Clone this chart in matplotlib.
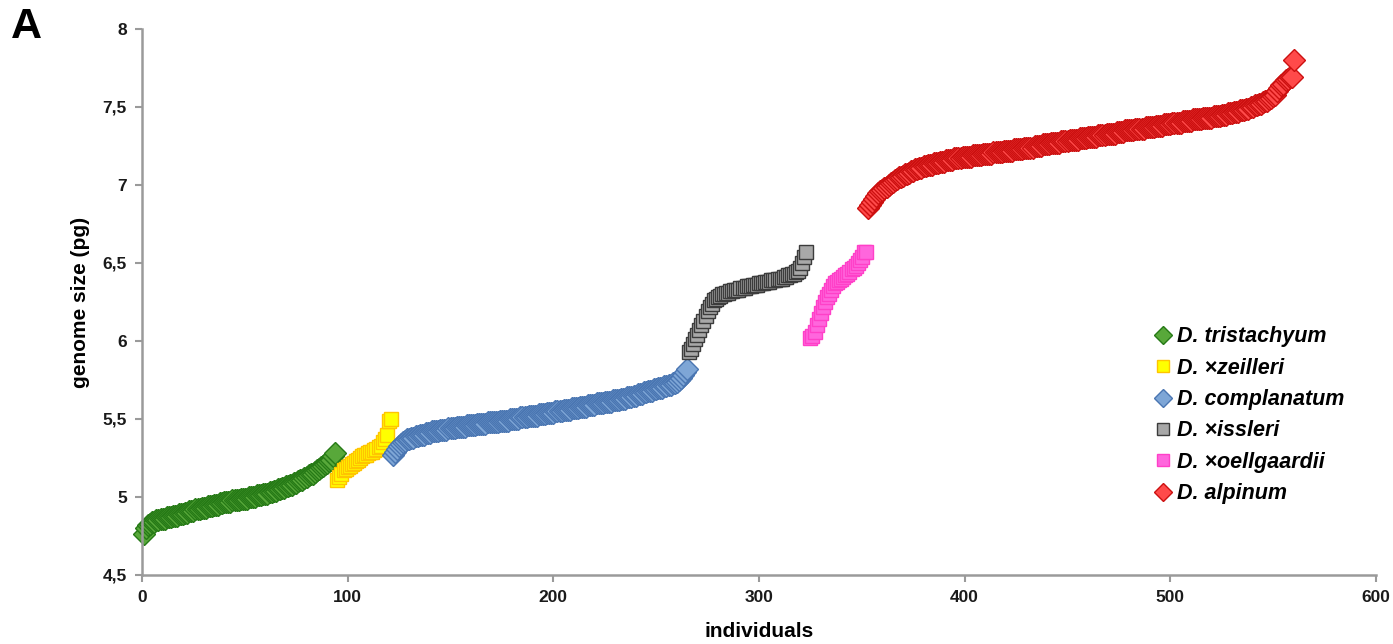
import matplotlib
matplotlib.use("Agg")
import matplotlib.pyplot as plt
import numpy as np

plt.rcParams["font.family"] = ["Liberation Sans", "DejaVu Sans"]

#  Genome sizes (pg), individuals sorted within each taxon
tristachyum = [
  4.76, 4.80, 4.82, 4.83, 4.84, 4.84, 4.85, 4.85, 4.86, 4.86,
  4.86, 4.87, 4.87, 4.87, 4.88, 4.88, 4.88, 4.89, 4.89, 4.89,
  4.90, 4.90, 4.91, 4.91, 4.91, 4.92, 4.92, 4.92, 4.93, 4.93,
  4.93, 4.94, 4.94, 4.94, 4.95, 4.95, 4.95, 4.96, 4.96, 4.97,
  4.97, 4.97, 4.97, 4.98, 4.98, 4.98, 4.98, 4.99, 4.99, 4.99,
  4.99, 5.00, 5.00, 5.00, 5.00, 5.01, 5.01, 5.01, 5.02, 5.02,
  5.02, 5.03, 5.03, 5.04, 5.04, 5.05, 5.05, 5.06, 5.06, 5.07,
  5.07, 5.08, 5.08, 5.09, 5.09, 5.10, 5.11, 5.11, 5.12, 5.13,
  5.14, 5.15, 5.15, 5.16, 5.17, 5.18, 5.19, 5.20, 5.21, 5.22,
  5.23, 5.24, 5.26, 5.28 ]

zeilleri = [
  5.11, 5.13, 5.15, 5.17, 5.18, 5.19, 5.20, 5.21, 5.22, 5.23,
  5.24, 5.25, 5.26, 5.27, 5.27, 5.28, 5.29, 5.29, 5.30, 5.31,
  5.32, 5.33, 5.35, 5.37, 5.40, 5.49, 5.50 ]

complanatum = [
  5.27, 5.29, 5.31, 5.33, 5.34, 5.35, 5.36, 5.37, 5.37, 5.38,
  5.38, 5.39, 5.39, 5.40, 5.40, 5.40, 5.41, 5.41, 5.41, 5.42,
  5.42, 5.42, 5.42, 5.43, 5.43, 5.43, 5.43, 5.44, 5.44, 5.44,
  5.44, 5.45, 5.45, 5.45, 5.45, 5.45, 5.46, 5.46, 5.46, 5.46,
  5.46, 5.47, 5.47, 5.47, 5.47, 5.47, 5.48, 5.48, 5.48, 5.48,
  5.48, 5.48, 5.49, 5.49, 5.49, 5.49, 5.49, 5.50, 5.50, 5.50,
  5.50, 5.50, 5.51, 5.51, 5.51, 5.51, 5.52, 5.52, 5.52, 5.52,
  5.52, 5.53, 5.53, 5.53, 5.53, 5.54, 5.54, 5.54, 5.54, 5.55,
  5.55, 5.55, 5.55, 5.56, 5.56, 5.56, 5.56, 5.57, 5.57, 5.57,
  5.57, 5.58, 5.58, 5.58, 5.58, 5.59, 5.59, 5.59, 5.59, 5.60,
  5.60, 5.60, 5.60, 5.61, 5.61, 5.61, 5.61, 5.62, 5.62, 5.62,
  5.62, 5.63, 5.63, 5.63, 5.64, 5.64, 5.64, 5.65, 5.65, 5.66,
  5.66, 5.66, 5.67, 5.67, 5.68, 5.68, 5.68, 5.69, 5.69, 5.70,
  5.70, 5.70, 5.71, 5.71, 5.72, 5.72, 5.73, 5.73, 5.74, 5.75,
  5.76, 5.78, 5.80, 5.82 ]

issleri = [
  5.93, 5.95, 5.98, 6.01, 6.04, 6.07, 6.10, 6.13, 6.16, 6.19,
  6.22, 6.24, 6.26, 6.27, 6.28, 6.29, 6.30, 6.30, 6.31, 6.31,
  6.32, 6.32, 6.33, 6.33, 6.33, 6.34, 6.34, 6.34, 6.35, 6.35,
  6.35, 6.36, 6.36, 6.36, 6.37, 6.37, 6.37, 6.38, 6.38, 6.38,
  6.39, 6.39, 6.39, 6.40, 6.40, 6.40, 6.41, 6.41, 6.42, 6.42,
  6.43, 6.43, 6.44, 6.45, 6.47, 6.50, 6.54, 6.57 ]

oellgaardii = [
  6.02, 6.03, 6.06, 6.10, 6.14, 6.18, 6.22, 6.25, 6.28, 6.30,
  6.33, 6.35, 6.37, 6.38, 6.39, 6.40, 6.41, 6.42, 6.43, 6.44,
  6.46, 6.47, 6.48, 6.50, 6.52, 6.54, 6.57, 6.57 ]

alpinum = [
  6.85, 6.87, 6.89, 6.91, 6.93, 6.95, 6.96, 6.97, 6.98, 6.99,
  7.00, 7.01, 7.02, 7.03, 7.04, 7.05, 7.05, 7.06, 7.07, 7.07,
  7.08, 7.09, 7.09, 7.10, 7.10, 7.11, 7.11, 7.12, 7.12, 7.13,
  7.13, 7.13, 7.14, 7.14, 7.14, 7.15, 7.15, 7.15, 7.16, 7.16,
  7.16, 7.16, 7.17, 7.17, 7.17, 7.17, 7.18, 7.18, 7.18, 7.18,
  7.18, 7.19, 7.19, 7.19, 7.19, 7.19, 7.20, 7.20, 7.20, 7.20,
  7.20, 7.21, 7.21, 7.21, 7.21, 7.21, 7.22, 7.22, 7.22, 7.22,
  7.22, 7.23, 7.23, 7.23, 7.23, 7.23, 7.24, 7.24, 7.24, 7.24,
  7.24, 7.25, 7.25, 7.25, 7.25, 7.26, 7.26, 7.26, 7.26, 7.27,
  7.27, 7.27, 7.27, 7.27, 7.28, 7.28, 7.28, 7.28, 7.29, 7.29,
  7.29, 7.29, 7.29, 7.30, 7.30, 7.30, 7.30, 7.31, 7.31, 7.31,
  7.31, 7.31, 7.32, 7.32, 7.32, 7.32, 7.33, 7.33, 7.33, 7.33,
  7.33, 7.34, 7.34, 7.34, 7.34, 7.35, 7.35, 7.35, 7.35, 7.35,
  7.36, 7.36, 7.36, 7.36, 7.36, 7.37, 7.37, 7.37, 7.37, 7.37,
  7.38, 7.38, 7.38, 7.38, 7.39, 7.39, 7.39, 7.39, 7.40, 7.40,
  7.40, 7.40, 7.40, 7.41, 7.41, 7.41, 7.41, 7.41, 7.42, 7.42,
  7.42, 7.42, 7.42, 7.43, 7.43, 7.43, 7.43, 7.43, 7.44, 7.44,
  7.44, 7.44, 7.45, 7.45, 7.45, 7.46, 7.46, 7.46, 7.47, 7.47,
  7.47, 7.48, 7.48, 7.48, 7.49, 7.49, 7.50, 7.50, 7.51, 7.51,
  7.52, 7.52, 7.53, 7.54, 7.54, 7.55, 7.56, 7.57, 7.58, 7.60,
  7.62, 7.64, 7.65, 7.67, 7.68, 7.69, 7.69, 7.80 ]

#  First individual number of each taxon on the x axis
start_x = [ 1, 95, 122, 266, 325, 353 ]

labels = [ "D. tristachyum", "D. \u00d7zeilleri", "D. complanatum",
           "D. \u00d7issleri", "D. \u00d7oellgaardii", "D. alpinum" ]

y_ticks = [ 4.5, 5, 5.5, 6, 6.5, 7, 7.5, 8 ]
y_tick_labels = [ "4,5", "5", "5,5", "6", "6,5", "7", "7,5", "8" ]
x_ticks = [ 0, 100, 200, 300, 400, 500, 600 ]

series = [ tristachyum, zeilleri, complanatum, issleri, oellgaardii, alpinum ]

#  marker, size, face, edge
styles = [
  ( "D", 11, "#58a83a", "#267a16" ),
  ( "s", 10, "#ffff00", "#ffc400" ),
  ( "D", 11, "#7ea6d6", "#4a76b2" ),
  ( "s", 10, "#a8a8a8", "#3c3c3c" ),
  ( "s", 10, "#ff66dd", "#ff40c8" ),
  ( "D", 11, "#ff4a4a", "#cc1010" ),
]

fig = plt.figure( figsize = ( 13.93, 6.44 ), dpi = 100 )
ax = fig.add_axes( [ 142 / 1393, 1 - 575 / 644, ( 1376 - 142 ) / 1393, ( 575 - 29 ) / 644 ] )

axis_grey = "#9a9a9a"

handles = []
for values, x0, label, ( marker, ms, face, edge ) in zip( series, start_x, labels, styles ):
  xs = np.arange( x0, x0 + len( values ) )
  ax.plot( xs, values, linestyle = "none", marker = marker, markersize = ms,
           markerfacecolor = face, markeredgecolor = edge, markeredgewidth = 1.0,
           clip_on = False )
  #  Legend keys are drawn at a common, smaller size
  h, = ax.plot( [], [], linestyle = "none", marker = marker,
                markersize = 9 if marker == "D" else 8,
                markerfacecolor = face, markeredgecolor = edge, markeredgewidth = 1.0, label = label )
  handles.append( h )

ax.set_xlim( 0, 600 )
ax.set_ylim( 4.5, 8 )
ax.set_xticks( x_ticks )
ax.set_xticklabels( [ str( t ) for t in x_ticks ], fontsize = 12.5, fontweight = "bold" )
ax.set_yticks( y_ticks )
ax.set_yticklabels( y_tick_labels, fontsize = 12.5, fontweight = "bold" )

for side in [ "top", "right" ]:
  ax.spines[ side ].set_visible( False )
for side in [ "left", "bottom" ]:
  ax.spines[ side ].set_color( axis_grey )
  ax.spines[ side ].set_linewidth( 1.8 )
ax.tick_params( colors = axis_grey, labelcolor = "#1a1a1a", length = 5, width = 1.5, pad = 6 )

ax.set_xlabel( "individuals", fontsize = 15, fontweight = "bold", labelpad = 12 )
ax.set_ylabel( "genome size (pg)", fontsize = 15, fontweight = "bold", labelpad = 9 )

fig.text( 11 / 1393, 1 - 38 / 644, "A", fontsize = 31, fontweight = "bold", ha = "left", va = "baseline" )

leg = ax.legend( handles = handles, loc = "upper left", bbox_to_anchor = ( 1137 / 1393, 1 - 307 / 644 ),
                 bbox_transform = fig.transFigure, frameon = False, handlelength = 0.6,
                 handletextpad = 0.35, labelspacing = 0.48,
                 prop = { "size": 15.5, "weight": "bold", "style": "italic" } )

fig.savefig( "out.png", dpi = 100 )
